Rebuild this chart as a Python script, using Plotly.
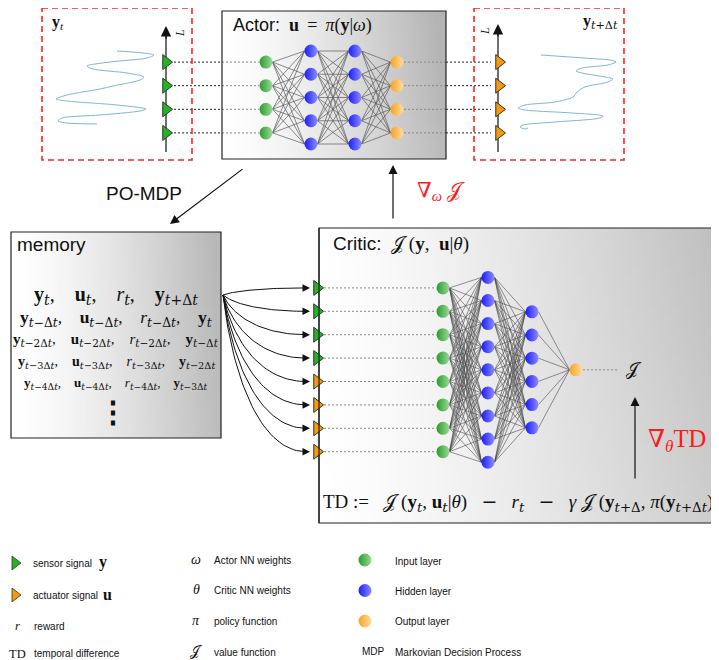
import numpy as np
import plotly.graph_objects as go

W, H = 719, 660
PAGE_MARGIN = 8  # default body margin of the html page

# ---------------- data ----------------
actor_layers = [4, 5, 5, 4]
actor_kinds = ["input", "hidden", "hidden", "output"]
critic_layers = [8, 9, 6, 1]
critic_kinds = ["input", "hidden", "hidden", "output"]
critic_inputs = ["sensor"] * 4 + ["actuator"] * 4
n_sensors = 4
n_actuators = 4

# sensor signal y_t (horizontal deflection vs position along L)
left_signal_x = [117, 140, 154, 147, 110, 87, 93, 127, 144, 140, 113, 100, 67, 56, 67, 117, 146, 140, 100, 62, 58, 67, 97]
left_signal_y = [51, 52.7, 55, 58, 62, 66, 69, 73, 77, 80, 86, 89, 95, 99, 101, 105, 109, 111, 115, 118, 121, 123, 124]
# actuated signal y_{t+dt}
right_signal_x = [541, 588, 610, 616, 608, 582, 576, 582, 605, 613, 608, 585, 577, 573, 555, 525, 518, 525, 572, 603, 600, 555, 523, 520, 525, 528]
right_signal_y = [55, 58.3, 60, 62, 65, 68, 71, 73, 77, 79, 82, 87, 92, 97, 102, 105, 108, 110, 113, 116, 118, 122, 125, 127, 129, 128]

memory_subs = [
    ("t", "t", "t", "t+Δt"),
    ("t−Δt", "t−Δt", "t−Δt", "t"),
    ("t−2Δt", "t−2Δt", "t−2Δt", "t−Δt"),
    ("t−3Δt", "t−3Δt", "t−3Δt", "t−2Δt"),
    ("t−4Δt", "t−4Δt", "t−4Δt", "t−3Δt"),
]
memory_sizes = [20, 17.5, 15, 14, 13]
memory_gaps = [4, 4, 4, 4, 4]
memory_rows_y = [295, 318, 340, 362, 383]

legend_signals = [("sensor", "sensor signal", "<b>y</b>"), ("actuator", "actuator signal", "<b>u</b>")]
legend_symbols1 = [("<i>r</i>", "reward"), ("TD", "temporal difference")]
legend_symbols2 = [("<i>ω</i>", "Actor NN weights"), ("<i>θ</i>", "Critic NN weights"),
                   ("<i>π</i>", "policy function"), ("𝒥", "value function")]
legend_layers = [("input", "Input layer"), ("hidden", "Hidden layer"), ("output", "Output layer")]
legend_mdp = ("MDP", "Markovian Decision Process")

# ---------------- styles ----------------
SANS = "Liberation Sans, Arial, sans-serif"
SERIF = "Liberation Serif, DejaVu Serif, serif"
WIDE = "DejaVu Serif"
NODE = {"input": ("#2a9c2a", "#9bd89b"), "hidden": ("#1c1cff", "#8c8cff"), "output": ("#f7a224", "#ffdca0")}
TRI = {"sensor": "#22b422", "actuator": "#f59a0a"}
NODE_SIZE = 13
R = 6.5
NB = "\u00a0"
LEG = 10

fig = go.Figure()


def gradient_box(x0, x1, y0, y1, dark, power=1.3, vy=0.0):
    nx, ny = 100, 30
    xe = np.linspace(x0, x1, nx + 1)
    ye = np.linspace(y0, y1, ny + 1)
    xc = (xe[:-1] + xe[1:]) / 2
    yc = (ye[:-1] + ye[1:]) / 2
    u = (xc - x0) / (x1 - x0)
    v = (yc - y0) / (y1 - y0)
    Z = np.clip((u[None, :] ** power) * (1 + vy * (0.5 - v[:, None])), 0, 1)
    fig.add_trace(go.Heatmap(x=xe, y=ye, z=Z, colorscale=[[0, "#ffffff"], [1, dark]],
                             zmin=0, zmax=1, showscale=False, hoverinfo="skip", zsmooth=False))
    fig.add_shape(type="rect", x0=x0, x1=x1, y0=y0, y1=y1, line=dict(color="#222", width=1.2),
                  layer="above")


def layer_ys(n, cy, sp):
    return [cy + (i - (n - 1) / 2) * sp for i in range(n)]


# boxes
gradient_box(222, 446, 11, 159, "#b4b4b4", power=1.4, vy=0.15)
gradient_box(11, 221, 232, 438, "#b8b8b8", power=1.4, vy=0.1)
gradient_box(319, 760, 228, 523, "#bdbdbd", power=1.3, vy=0.25)

# red dashed boxes
for x0, x1 in [(42, 192), (474, 624)]:
    fig.add_shape(type="rect", x0=x0, x1=x1, y0=8, y1=160, line=dict(color="#ff2222", width=1.6, dash="6px,4px"),
                  layer="above")

# signals
for sx, sy in [(left_signal_x, left_signal_y), (right_signal_x, right_signal_y)]:
    fig.add_trace(go.Scatter(x=sx, y=sy, mode="lines", hoverinfo="skip",
                             line=dict(color="#82b4da", width=1, shape="spline", smoothing=0.8)))

# networks
actor_x = [266, 311, 355, 397]
actor_sp = [23.6, 23.25, 23.25, 23.6]
actor_pos = [layer_ys(n, 97.5, s) for n, s in zip(actor_layers, actor_sp)]
critic_x = [443, 488, 532, 576]
critic_sp = [23.4, 23.1, 23.2, 23.2]
critic_pos = [layer_ys(n, 369.8, s) for n, s in zip(critic_layers, critic_sp)]


def connections(xs, pos, color, width):
    lx, ly = [], []
    for k in range(len(xs) - 1):
        for ya in pos[k]:
            for yb in pos[k + 1]:
                lx += [xs[k] + R, xs[k + 1] - R, None]
                ly += [ya, yb, None]
    fig.add_trace(go.Scatter(x=lx, y=ly, mode="lines", line=dict(color=color, width=width), hoverinfo="skip"))


connections(actor_x, actor_pos, "#5a5a5a", 0.7)
connections(critic_x, critic_pos, "#4a4a4a", 0.6)

# axis lines with sensors / actuators
fig.add_trace(go.Scatter(x=[166, 166, None, 498, 498], y=[152, 34, None, 152, 32], mode="lines",
                         line=dict(color="#222", width=1.3), hoverinfo="skip"))
fig.add_trace(go.Scatter(x=[319, 319], y=[228, 523], mode="lines", line=dict(color="#222", width=1.2), hoverinfo="skip"))


def dotted(x0, x1, ys, color):
    lx, ly = [], []
    for y in ys:
        lx += [x0, x1, None]
        ly += [y, y, None]
    fig.add_trace(go.Scatter(x=lx, y=ly, mode="lines", line=dict(color=color, width=1, dash="2px,2px"), hoverinfo="skip"))


sens_y = actor_pos[0]
act_y = actor_pos[-1]
dotted(174, 222, sens_y, "#222")
dotted(222, 259, sens_y, "#888")
dotted(404, 446, act_y, "#888")
dotted(446, 491, act_y, "#222")
dotted(324, 436, critic_pos[0], "#8a8a8a")
dotted(583, 617, critic_pos[-1], "#8a8a8a")

# memory -> critic inputs curves
ox, oy = 223, 295
tip_x = 310
cx, cy = [], []
for y in critic_pos[0]:
    dx, dy = tip_x - ox, y - oy
    P0 = np.array([ox, oy]); P1 = np.array([ox + 0.13 * dx, oy + 0.6 * dy])
    P2 = np.array([tip_x - 0.52 * dx, y]); P3 = np.array([tip_x - 4, y])
    t = np.linspace(0, 1, 40)[:, None]
    B = (1 - t) ** 3 * P0 + 3 * (1 - t) ** 2 * t * P1 + 3 * (1 - t) * t ** 2 * P2 + t ** 3 * P3
    cx += list(B[:, 0]) + [None]
    cy += list(B[:, 1]) + [None]
fig.add_trace(go.Scatter(x=cx, y=cy, mode="lines", line=dict(color="#111", width=1), hoverinfo="skip"))

# triangles
fig.add_trace(go.Scatter(x=[166] * n_sensors, y=sens_y, mode="markers", hoverinfo="skip",
                         marker=dict(symbol="triangle-right", size=13, color=TRI["sensor"], line=dict(color="#333", width=1))))
fig.add_trace(go.Scatter(x=[499] * n_actuators, y=act_y, mode="markers", hoverinfo="skip",
                         marker=dict(symbol="triangle-right", size=13, color=TRI["actuator"], line=dict(color="#333", width=1))))
fig.add_trace(go.Scatter(x=[317] * len(critic_inputs), y=critic_pos[0], mode="markers", hoverinfo="skip",
                         marker=dict(symbol="triangle-right", size=13, color=[TRI[k] for k in critic_inputs],
                                     line=dict(color="#333", width=1))))


def nodes(xs, pos, kinds):
    for x, ys, k in zip(xs, pos, kinds):
        fill, light = NODE[k]
        fig.add_trace(go.Scatter(x=[x] * len(ys), y=ys, mode="markers", hoverinfo="skip",
                                 marker=dict(size=NODE_SIZE, color=fill, line=dict(width=0),
                                             gradient=dict(type="horizontal", color=light))))


nodes(actor_x, actor_pos, actor_kinds)
nodes(critic_x, critic_pos, critic_kinds)

# legend markers
fig.add_trace(go.Scatter(x=[15, 15], y=[563, 595], mode="markers", hoverinfo="skip",
                         marker=dict(symbol="triangle-right", size=12, color=[TRI[k] for k, _, _ in legend_signals],
                                     line=dict(color="#333", width=0.8))))
for i, (k, _) in enumerate(legend_layers):
    fill, light = NODE[k]
    fig.add_trace(go.Scatter(x=[365], y=[560 + 30.5 * i], mode="markers", hoverinfo="skip",
                             marker=dict(size=13, color=fill, line=dict(width=0), gradient=dict(type="horizontal", color=light))))


# ---------------- arrows ----------------
def arrow(x0, y0, x1, y1, size=1.5, width=1.2):
    fig.add_annotation(x=x1, y=y1, ax=x0, ay=y0, xref="x", yref="y", axref="x", ayref="y", text="",
                       showarrow=True, arrowhead=2, arrowsize=size, arrowwidth=width, arrowcolor="#111", standoff=0)


arrow(166, 40, 166, 26, 1.6, 1.3)
arrow(498, 38, 498, 24, 1.6, 1.3)
arrow(244, 168, 170, 224)
arrow(393, 220, 393, 165)
arrow(635, 480, 635, 397)
for y in critic_pos[0]:
    arrow(tip_x - 8, y, tip_x, y, 1.5, 1.0)


# ---------------- text ----------------
def text(x, y, s, size, family=SERIF, color="#111", xanchor="left", angle=0):
    fig.add_annotation(x=x, y=y, xref="x", yref="y", text=s, showarrow=False, xanchor=xanchor, yanchor="middle",
                       font=dict(family=family, size=size, color=color), textangle=angle)


def it(s):
    return s.replace("t", "<i>t</i>")


def sub(s):
    # subscripts in a wider serif, closer to the TeX script style
    return f'<sub><span style="font-family:{WIDE}">{it(s)}</span></sub>'


text(50, 22, "<b>y</b><sub><i>t</i></sub>", 16)
text(180, 33, "<i>L</i>", 12, xanchor="center", angle=-90)
text(620, 22, "<b>y</b>" + sub("t+Δt"), 16, xanchor="right")
text(485, 31, "<i>L</i>", 12, xanchor="center", angle=-90)
text(231, 25, f'<span style="font-family:{SANS}">Actor:</span>{NB*2}<b>u</b>{NB}\u2009={NB}\u2009<i>π</i>(<b>y</b>|<i>ω</i>)', 18)
text(144, 193, "PO-MDP", 19, family=SANS, xanchor="center")
text(415, 191, f"∇<sub><i>ω</i></sub>{NB}𝒥", 21, color="#ff1a1a")
text(15, 244, "memory", 19, family=SANS)
for (a, b, c, d), fs, gap, yy in zip(memory_subs, memory_sizes, memory_gaps, memory_rows_y):
    g = "," + NB * gap
    s = f"<b>y</b>{sub(a)}{g}<b>u</b>{sub(b)}{g}<i>r</i>{sub(c)}{g}<b>y</b>{sub(d)}"
    text(116, yy, s, fs, xanchor="center")
text(113, 411, "<b>⋮</b>", 30, family="DejaVu Serif", xanchor="center")
text(331, 244, f'<span style="font-family:{SANS}">Critic:</span>{NB*2}𝒥{NB}(<b>y</b>,{NB*2}<b>u</b>|<i>θ</i>)', 19)
text(624, 369, "𝒥", 18)
text(646, 440, "∇<sub><i>θ</i></sub>TD", 24.5, color="#ff1a1a")
mn = f'{NB*3}<span style="font-family:{WIDE}">−</span>{NB*3}'
td = (f"TD{NB}:={NB*3}𝒥{NB}(<b>y</b>{sub('t')},{NB}<b>u</b>{sub('t')}|<i>θ</i>){mn}"
      f"<i>r</i>{sub('t')}{mn}<i>γ</i>{NB}𝒥{NB}(<b>y</b>{sub('t+Δ')},{NB}<i>π</i>(<b>y</b>{sub('t+Δt')}))")
text(321, 502, td, 19)

# legend text
for i, (_, lab, sym) in enumerate(legend_signals):
    yy = 563 + 32 * i
    text(31, yy, lab, LEG, family=SANS)
    text(97 + 4 * i, yy - 1, sym, 16)
for i, (sym, lab) in enumerate(legend_symbols1):
    yy = 626 + 27.5 * i
    text(17, yy, sym, 12.5, xanchor="center")
    text(32, yy, lab, LEG, family=SANS)
for i, (sym, lab) in enumerate(legend_symbols2):
    yy = 560 + 30.7 * i
    text(196, yy - 1, sym, 14, xanchor="center")
    text(212, yy, lab, LEG, family=SANS)
for i, (_, lab) in enumerate(legend_layers):
    text(393, 561 + 30 * i, lab, LEG, family=SANS)
text(373, 651, legend_mdp[0], LEG, family=SANS, xanchor="center")
text(393, 652, legend_mdp[1], LEG, family=SANS)

fig.update_layout(width=W - PAGE_MARGIN, height=H - PAGE_MARGIN, margin=dict(l=0, r=0, t=0, b=0), showlegend=False,
                  plot_bgcolor="white", paper_bgcolor="white",
                  xaxis=dict(range=[PAGE_MARGIN, W], visible=False, fixedrange=True),
                  yaxis=dict(range=[H, PAGE_MARGIN], visible=False, fixedrange=True))
fig.write_html("out.html")
